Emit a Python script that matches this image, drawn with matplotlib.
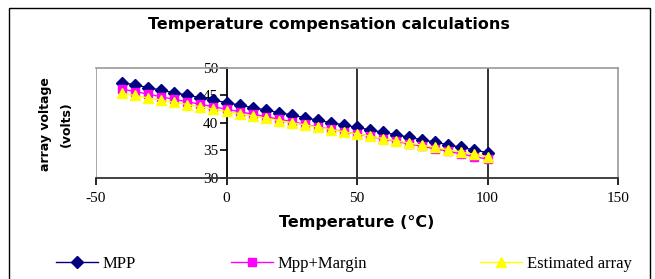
import matplotlib
matplotlib.use("Agg")
import matplotlib.pyplot as plt
from matplotlib.patches import Rectangle

plt.rcParams["axes.unicode_minus"] = False

# ---- data ----
temperature = [-40, -35, -30, -25, -20, -15, -10, -5, 0, 5, 10, 15, 20, 25, 30,
               35, 40, 45, 50, 55, 60, 65, 70, 75, 80, 85, 90, 95, 100]
mpp = [47.3, 46.85, 46.4, 45.9, 45.45, 45.0, 44.55, 44.1, 43.65, 43.2, 42.75,
       42.3, 41.85, 41.4, 40.9, 40.45, 40.0, 39.6, 39.15, 38.7, 38.25, 37.8,
       37.35, 36.9, 36.45, 36.0, 35.5, 35.05, 34.55]
mpp_margin = [46.1, 45.65, 45.2, 44.7, 44.25, 43.8, 43.35, 42.9, 42.45, 42.0,
              41.55, 41.1, 40.65, 40.2, 39.7, 39.25, 38.8, 38.4, 37.95, 37.5,
              37.05, 36.6, 36.15, 35.7, 35.25, 34.8, 34.3, 33.85, 33.35]
estimated = [45.35, 44.95, 44.5, 44.1, 43.7, 43.3, 42.9, 42.45, 42.05, 41.65,
             41.25, 40.8, 40.4, 40.0, 39.6, 39.2, 38.75, 38.35, 37.95, 37.55,
             37.1, 36.7, 36.3, 35.9, 35.5, 35.05, 34.65, 34.25, 33.8]
series_names = ["MPP", "Mpp+Margin", "Estimated array"]
x_ticks = [-50, 0, 50, 100, 150]
y_ticks = [30, 35, 40, 45, 50]

W, H = 655, 279
fig = plt.figure(figsize=(W / 100, H / 100), dpi=100)
fig.patch.set_facecolor("white")

# outer chart border
fig.patches.append(Rectangle((9 / W, -0.05), (650 - 9) / W, 1.05 - 8 / H,
                             transform=fig.transFigure, fill=False,
                             edgecolor="black", linewidth=1.0))

ax = fig.add_axes([96 / W, 1 - 177.7 / H, (618 - 96) / W, (177.7 - 67.7) / H])
ax.set_xlim(-50, 150)
ax.set_ylim(30, 50)

serif = "Liberation Serif"
sans = "DejaVu Sans"

# spines
ax.spines["left"].set_position(("data", 0))
ax.spines["left"].set_color("black")
ax.spines["left"].set_linewidth(1.3)
ax.spines["bottom"].set_color("#333333")
ax.spines["bottom"].set_linewidth(1.3)
ax.spines["top"].set_color("#999999")
ax.spines["right"].set_color("#999999")
ax.spines["top"].set_linewidth(1.2)
ax.spines["right"].set_linewidth(1.2)
# gray plot-area border on the left
ax.axvline(-50, color="#999999", linewidth=1.2, zorder=1)
# vertical gridlines
for xv in [50, 100]:
    ax.axvline(xv, color="#222222", linewidth=1.3, zorder=1)

ax.set_xticks(x_ticks)
ax.set_yticks(y_ticks)
ax.tick_params(axis="x", direction="out", length=5, width=1.2, pad=5,
               labelsize=11)
ax.tick_params(axis="y", direction="out", length=5, width=1.2, pad=1,
               labelsize=11)
for lab in ax.get_xticklabels() + ax.get_yticklabels():
    lab.set_fontfamily(serif)

l1, = ax.plot(temperature, mpp, color="#000080", marker="D", markersize=6,
              linewidth=1.0, zorder=3, label=series_names[0])
l2, = ax.plot(temperature, mpp_margin, color="#FF00FF", marker="s",
              markersize=6, linewidth=1.0, zorder=4, label=series_names[1])
l3, = ax.plot(temperature, estimated, color="#FFFF00", marker="^",
              markersize=7.5, linewidth=1.0, zorder=5, label=series_names[2])

# titles
fig.text(329 / W, 1 - 25 / H, "Temperature compensation calculations",
         ha="center", va="center", fontsize=11.5, fontweight="bold",
         family=sans)
fig.text(357 / W, 1 - 222 / H, "Temperature (°C)", ha="center", va="center",
         fontsize=11.5, fontweight="bold", family=sans)
fig.text(45 / W, 1 - 124 / H, "array voltage", ha="center", va="center",
         rotation=90, fontsize=9, fontweight="bold", family=sans)
fig.text(66 / W, 1 - 124 / H, "(volts)", ha="center", va="center",
         rotation=90, fontsize=9, fontweight="bold", family=sans)

# legend: three entries placed individually
fs = 12
for handle, x0 in zip([l1, l2, l3], [56, 231, 480]):
    fig.legend(handles=[handle], loc="center left",
               bbox_to_anchor=(x0 / W, 1 - 264 / H), frameon=False,
               prop={"family": serif, "size": fs},
               handlelength=42 / (fs * 100 / 72), handletextpad=0.3,
               borderpad=0, borderaxespad=0)

fig.savefig("out.png", dpi=100)
